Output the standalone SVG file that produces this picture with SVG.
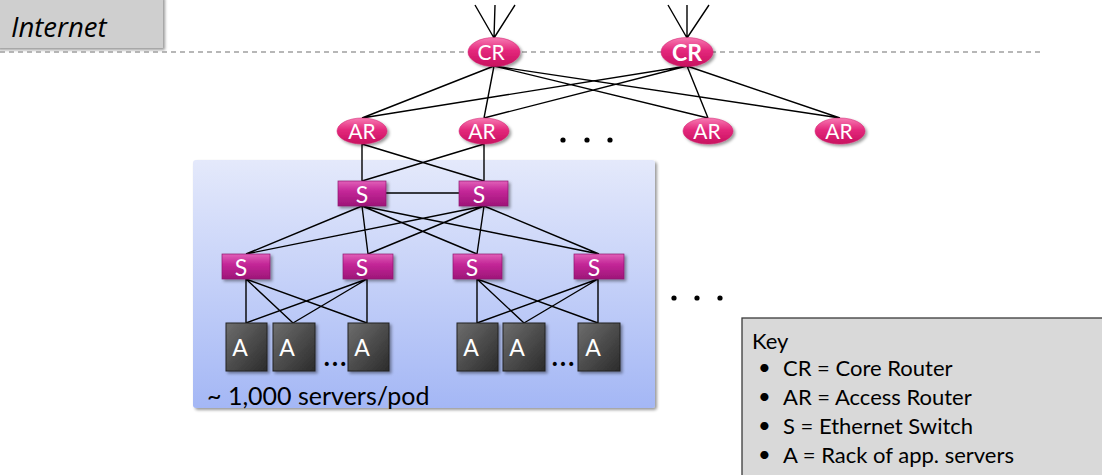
<svg xmlns="http://www.w3.org/2000/svg" width="1102" height="475" viewBox="0 0 1102 475">
<defs>
<linearGradient id="gPink" x1="0" y1="0" x2="0" y2="1">
<stop offset="0" stop-color="#f77bb3"/><stop offset="0.45" stop-color="#e4287c"/><stop offset="1" stop-color="#c8105f"/>
</linearGradient>
<linearGradient id="gSw" x1="0" y1="0" x2="0" y2="1">
<stop offset="0" stop-color="#e160b8"/><stop offset="0.4" stop-color="#c42798"/><stop offset="1" stop-color="#9e1578"/>
</linearGradient>
<linearGradient id="gRack" x1="0" y1="0" x2="1" y2="1">
<stop offset="0" stop-color="#6e6e6e"/><stop offset="1" stop-color="#2b2b2b"/>
</linearGradient>
<linearGradient id="gPod" x1="0" y1="0" x2="0" y2="1">
<stop offset="0" stop-color="#e4e9fb"/><stop offset="1" stop-color="#a4b7f5"/>
</linearGradient>
<filter id="sh" x="-20%" y="-20%" width="150%" height="150%">
<feDropShadow dx="2" dy="2" stdDeviation="1.5" flood-color="#000" flood-opacity="0.4"/>
</filter>
</defs>
<style>
.ln{stroke:#000;stroke-width:1.4;fill:none}
.rt{fill:url(#gPink);stroke:#d01a6a;stroke-width:0.5;filter:url(#sh)}
.sw{fill:url(#gSw);stroke:#8e1470;stroke-width:0.7;filter:url(#sh)}
.rk{fill:url(#gRack);stroke:#222;stroke-width:1;filter:url(#sh)}
.nt{font-family:Lato,"Open Sans",sans-serif;fill:#fff;text-anchor:middle}
.kt{font-family:Lato,"Open Sans",sans-serif;font-size:22px;fill:#000}
.el{font-family:Lato,sans-serif;font-size:32px;fill:#000}
.dot{fill:#000}
</style>

<g id="internet">
<rect x="-4" y="-4" width="167" height="52" fill="#cfcfcf" filter="url(#sh)"/>
<text x="11" y="37" font-family="'Open Sans',Lato,sans-serif" font-style="italic" font-size="27.5" fill="#000">Internet</text>
</g>
<line x1="0" y1="52" x2="1042" y2="52" stroke="#a0a0a0" stroke-width="1.3" stroke-dasharray="5 4"/>

<g id="pod">
<rect x="193" y="160" width="462" height="248" fill="url(#gPod)" rx="3" filter="url(#sh)"/>
<text x="207" y="405" font-family="Lato,'Open Sans',sans-serif" font-size="25" fill="#000">~ 1,000 servers/pod</text>
</g>

<g id="connectors">
<path class="ln" d="M494 38L475 5M494 38L495 5M494 38L515 5M687 38L668 5M687 38L687 5M687 38L709 5"/>
<path class="ln" d="M494 66L362 118M494 66L484 118M494 66L708 118M494 66L840 118M687 66L362 118M687 66L484 118M687 66L708 118M687 66L840 118"/>
<path class="ln" d="M362 144L362 181M362 144L484 181M484 144L362 181M484 144L484 181"/>
<path class="ln" d="M386 193L459 193"/>
<path class="ln" d="M362 206L246 254M362 206L368 254M362 206L477 254M362 206L599 254M484 206L246 254M484 206L368 254M484 206L477 254M484 206L599 254"/>
<path class="ln" d="M246 279L246 323M246 279L293 323M246 279L367 323M367 279L246 323M367 279L293 323M367 279L367 323"/>
<path class="ln" d="M477 279L477 323M477 279L524 323M477 279L598 323M598 279L477 323M598 279L524 323M598 279L598 323"/>
</g>

<g id="cr1"><ellipse class="rt" cx="494" cy="52" rx="26" ry="14.5"/><text class="nt" x="491" y="60" font-size="21">CR</text></g>
<g id="cr2"><ellipse class="rt" cx="687" cy="52" rx="26" ry="14.5"/><text class="nt" x="687" y="61" font-size="23" font-weight="bold">CR</text></g>

<g id="ar1"><ellipse class="rt" cx="362" cy="131" rx="25" ry="13"/><text class="nt" x="362" y="139" font-size="21">AR</text></g>
<g id="ar2"><ellipse class="rt" cx="484" cy="131" rx="25" ry="13"/><text class="nt" x="482" y="139" font-size="21">AR</text></g>
<g id="ar3"><ellipse class="rt" cx="708" cy="131" rx="25" ry="13"/><text class="nt" x="707" y="139" font-size="21">AR</text></g>
<g id="ar4"><ellipse class="rt" cx="840" cy="131" rx="25" ry="13"/><text class="nt" x="839" y="139" font-size="21">AR</text></g>

<g id="dots1"><circle class="dot" cx="563" cy="140" r="2.6"/><circle class="dot" cx="587" cy="140" r="2.6"/><circle class="dot" cx="610" cy="140" r="2.6"/></g>
<g id="dots2"><circle class="dot" cx="674" cy="298" r="2.6"/><circle class="dot" cx="697" cy="298" r="2.6"/><circle class="dot" cx="720" cy="298" r="2.6"/></g>

<g id="s1"><rect class="sw" x="338" y="181" width="48" height="25"/><text class="nt" x="362" y="203" font-size="23">S</text></g>
<g id="s2"><rect class="sw" x="459" y="181" width="49" height="25"/><text class="nt" x="479" y="203" font-size="23">S</text></g>
<g id="s3"><rect class="sw" x="222" y="254" width="48" height="25"/><text class="nt" x="241" y="276" font-size="23">S</text></g>
<g id="s4"><rect class="sw" x="343" y="254" width="50" height="25"/><text class="nt" x="362" y="276" font-size="23">S</text></g>
<g id="s5"><rect class="sw" x="453" y="254" width="49" height="25"/><text class="nt" x="472" y="276" font-size="23">S</text></g>
<g id="s6"><rect class="sw" x="574" y="254" width="50" height="25"/><text class="nt" x="594" y="276" font-size="23">S</text></g>

<g id="a1"><rect class="rk" x="226" y="323" width="41" height="48"/><text class="nt" x="240" y="356" font-size="23">A</text></g>
<g id="a2"><rect class="rk" x="273" y="323" width="42" height="48"/><text class="nt" x="287" y="356" font-size="23">A</text></g>
<g id="a3"><rect class="rk" x="348" y="323" width="41" height="48"/><text class="nt" x="362" y="356" font-size="23">A</text></g>
<g id="a4"><rect class="rk" x="457" y="323" width="41" height="48"/><text class="nt" x="471" y="356" font-size="23">A</text></g>
<g id="a5"><rect class="rk" x="503" y="323" width="42" height="48"/><text class="nt" x="517" y="356" font-size="23">A</text></g>
<g id="a6"><rect class="rk" x="578" y="323" width="42" height="48"/><text class="nt" x="593" y="356" font-size="23">A</text></g>

<text class="el" x="323" y="366">…</text>
<text class="el" x="551" y="366">…</text>

<g id="key">
<rect x="742" y="318" width="365" height="162" fill="#d9d9d9" stroke="#3a3a3a" stroke-width="1.3"/>
<text class="kt" x="752" y="349">Key</text>
<text class="kt" x="758" y="375" font-size="17">•</text><text class="kt" x="783" y="376">CR = Core Router</text>
<text class="kt" x="758" y="404" font-size="17">•</text><text class="kt" x="783" y="405">AR = Access Router</text>
<text class="kt" x="758" y="433" font-size="17">•</text><text class="kt" x="783" y="434">S = Ethernet Switch</text>
<text class="kt" x="758" y="462" font-size="17">•</text><text class="kt" x="783" y="463">A = Rack of app. servers</text>
</g>
</svg>
